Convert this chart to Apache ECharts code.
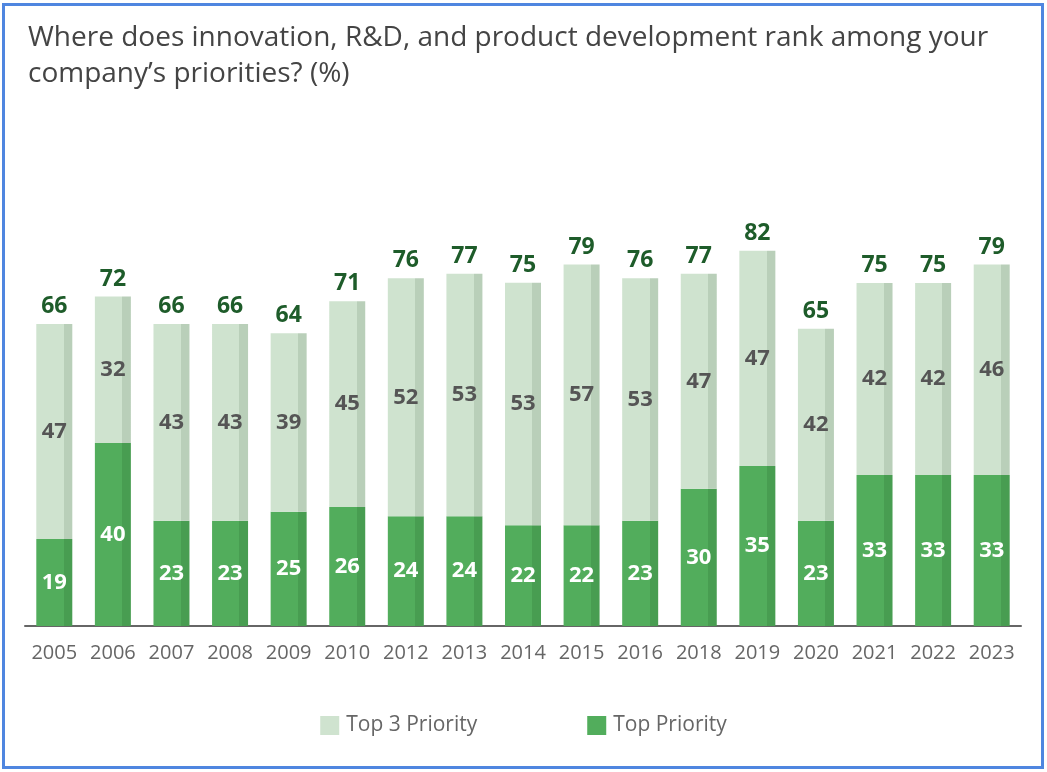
<!DOCTYPE html>
<html><head><meta charset="utf-8">
<script src="https://cdn.jsdelivr.net/npm/echarts@6/dist/echarts.min.js"></script>
<style>
html,body{margin:0;padding:0;background:#fff;}
#wrap{position:relative;width:1047px;height:772px;}
#chart{position:absolute;left:0;top:0;width:1047px;height:772px;}
#frame{position:absolute;left:2px;top:3px;width:1042px;height:766px;border:3px solid #4f86e0;box-sizing:border-box;pointer-events:none;}
</style></head>
<body>
<div id="wrap"><div id="chart"></div><div id="frame"></div></div>
<script>
const years = ['2005','2006','2007','2008','2009','2010','2012','2013','2014','2015','2016','2018','2019','2020','2021','2022','2023'];
const topPriority = [19,40,23,23,25,26,24,24,22,22,23,30,35,23,33,33,33];
const top3Extra = [47,32,43,43,39,45,52,53,53,57,53,47,47,42,42,42,46];
const totals = [66,72,66,66,64,71,76,77,75,79,76,77,82,65,75,75,79];

const FONT = '"Open Sans", "Noto Sans", sans-serif';
function strip(base, dark){
  return new echarts.graphic.LinearGradient(0,0,1,0,[
    {offset:0,color:base},{offset:0.76,color:base},{offset:0.76,color:dark},{offset:1,color:dark}]);
}
const chart = echarts.init(document.getElementById('chart'));
chart.setOption({
  animation:false,
  title:{text:'Where does innovation, R&D, and product development rank among your\ncompany\u2019s priorities? (%)',
    left:23, top:15,
    textStyle:{fontFamily:FONT,fontSize:28,fontWeight:'normal',color:'#444',lineHeight:36}},
  legend:{data:[{name:'Top 3 Priority',itemStyle:{color:'#cfe3cf'}},{name:'Top Priority',itemStyle:{color:'#52ad5c'}}],
    bottom:31, left:'center', itemWidth:19, itemHeight:19, itemGap:110,
    icon:'rect',
    textStyle:{fontFamily:FONT,fontSize:21,color:'#666',padding:[0,0,0,2]}},
  grid:{left:25,right:26,top:168.5,bottom:146},
  xAxis:{type:'category',data:years,
    axisLine:{lineStyle:{color:'#666',width:2}},axisTick:{show:false},
    axisLabel:{interval:0,fontFamily:FONT,fontSize:20,color:'#666',margin:17}},
  yAxis:{type:'value',min:0,max:100,show:false,splitLine:{show:false}},
  series:[
    {name:'Top Priority',type:'bar',stack:'a',barWidth:36,data:topPriority,
     itemStyle:{color:strip('#52ad5c','#489d51')},
     label:{show:true,position:'inside',fontFamily:FONT,fontWeight:'bold',fontSize:22,color:'#fff'}},
    {name:'Top 3 Priority',type:'bar',stack:'a',barWidth:36,data:top3Extra,
     itemStyle:{color:strip('#cfe3cf','#b9cfb9')},
     label:{show:true,position:'inside',fontFamily:FONT,fontWeight:'bold',fontSize:22,color:'#555'}},
    {name:'total',type:'bar',stack:'a',barWidth:36,data:totals.map(()=>0),
     itemStyle:{color:'transparent'},
     label:{show:true,position:'top',distance:6,fontFamily:FONT,fontWeight:'bold',fontSize:23,color:'#1e5c2a',
       formatter:p=>totals[p.dataIndex]}}
  ]
});
</script>
</body></html>
